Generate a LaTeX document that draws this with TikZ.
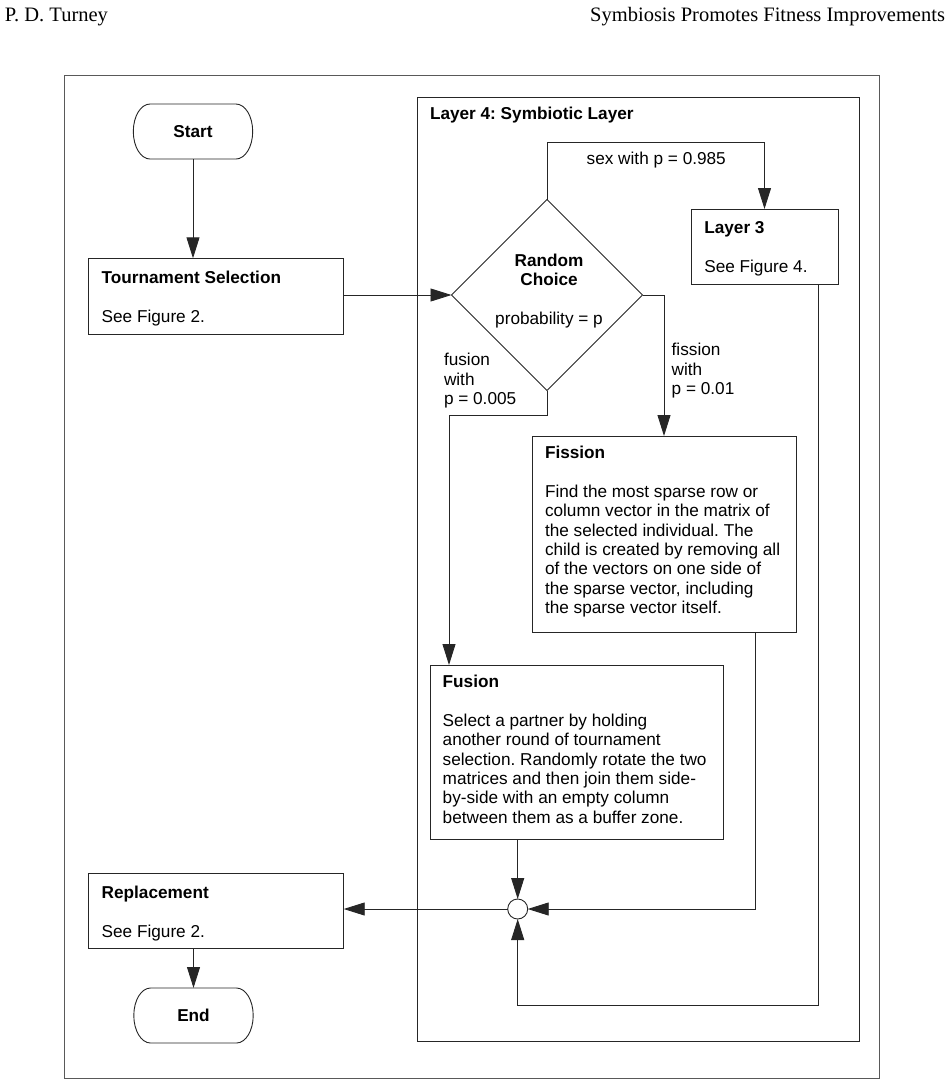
\documentclass[tikz,border=0pt]{standalone}
\usepackage{fontspec}
\setmainfont{Liberation Sans}
\newfontfamily\hdrfont{Liberation Serif}
\usetikzlibrary{shapes.geometric,arrows.meta,calc}
\frenchspacing
\newcommand{\drawterm}[2]{%
 \draw[ln] (#1-43,#2-27.5) -- (#1+43,#2-27.5)
   .. controls (#1+52.2,#2-27.5) and (#1+59.7,#2-15.2) .. (#1+59.7,#2)
   .. controls (#1+59.7,#2+15.2) and (#1+52.2,#2+27.5) .. (#1+43,#2+27.5)
   -- (#1-43,#2+27.5)
   .. controls (#1-52.2,#2+27.5) and (#1-59.7,#2+15.2) .. (#1-59.7,#2)
   .. controls (#1-59.7,#2-15.2) and (#1-52.2,#2-27.5) .. (#1-43,#2-27.5) -- cycle;}
\begin{document}
\frenchspacing
\begin{tikzpicture}[x=1pt,y=-1pt,
  every node/.style={inner sep=0pt, outer sep=0pt},
  ln/.style={draw=black!85, line width=0.9pt},
  arr/.style={ln, -{Triangle[length=21pt,width=13pt]}},
  box/.style={draw=black!85, line width=0.9pt, rectangle, anchor=north west},
  frame/.style={draw=black!65, line width=0.9pt, rectangle, anchor=north west},
  txt/.style={font=\fontsize{17.2}{19.4}\selectfont, align=left, anchor=north west},
  ctxt/.style={font=\fontsize{17.2}{19.4}\selectfont, align=center, anchor=north},
  term/.style={font=\fontsize{17.2}{19.4}\selectfont\bfseries, minimum width=119.4pt, minimum height=55pt},
  hdr/.style={font=\hdrfont\fontsize{20.5}{24}\selectfont, anchor=base west}
]
\useasboundingbox (0,0) rectangle (948,1085);

% header
\node[hdr] (hl) at (5,21) {P. D. Turney};
\node[hdr, anchor=base east] (hr) at (945,21) {Symbiosis Promotes Fitness Improvements};

% frames
\node[frame, minimum width=815pt, minimum height=1003pt] (outer) at (64,75) {};
\node[box, minimum width=442pt, minimum height=944pt] (layer4) at (417,97) {};
\node[txt] (l4t) at (430,107.5) {\textbf{Layer 4: Symbiotic Layer}};

% terminals
\node[term] (start) at (193,131.5) {Start};
\drawterm{193}{131.5}
\node[term] (endn) at (193.5,1015.5) {End};
\drawterm{193.5}{1015.5}

% boxes
\node[box, minimum width=255.4pt, minimum height=76pt] (tour) at (88.3,258.3) {};
\node[txt] (tourt) at (101.7,271) {\textbf{Tournament Selection}\\[19.4pt]See Figure 2.};

\node[box, minimum width=147pt, minimum height=75pt] (l3) at (691,209) {};
\node[txt] (l3t) at (704.3,221.7) {\textbf{Layer 3}\\[19.4pt]See Figure 4.};

\node[box, minimum width=264pt, minimum height=196pt] (fis) at (532,436) {};
\node[txt] (fist) at (545,446) {\textbf{Fission}\\[19.4pt]Find the most sparse row or\\column vector in the matrix of\\the selected individual. The\\child is created by removing all\\of the vectors on one side of\\the sparse vector, including\\the sparse vector itself.};

\node[box, minimum width=293pt, minimum height=174pt] (fus) at (430,665) {};
\node[txt] (fust) at (442.7,675) {\textbf{Fusion}\\[19.4pt]Select a partner by holding\\another round of tournament\\selection. Randomly rotate the two\\matrices and then join them side-\\by-side with an empty column\\between them as a buffer zone.};

\node[box, minimum width=255.4pt, minimum height=75pt] (rep) at (88.3,873.3) {};
\node[txt] (rept) at (101.7,886) {\textbf{Replacement}\\[19.4pt]See Figure 2.};

% decision
\node[diamond, draw=black!85, line width=0.9pt, minimum width=191pt, minimum height=191pt] (dia) at (547,295) {};
\node[ctxt] (diat) at (549,254) {\textbf{Random}\\\textbf{Choice}\\[19.4pt]probability = p};

% junction
\node[circle, draw=black!85, line width=0.9pt, minimum size=20pt] (circ) at (517.7,909) {};

% labels
\node[txt, anchor=base west] (sexl) at (586.7,164) {sex with p = 0.985};
\node[txt] (fisl) at (671.7,343.5) {fission\\with\\p = 0.01};
\node[txt] (fusl) at (444,353.5) {fusion\\with\\p = 0.005};

% connectors
\draw[arr] (start.south) -- (start.south |- tour.north);
\draw[arr] (tour.east |- dia.west) -- (dia.west);
\draw[arr] (dia.north) -- ++(0,-57.3) -| (l3.north);
\draw[arr] (dia.east) -| (fis.north);
\draw[arr] (dia.south) -- ++(0,25) -| ([xshift=19pt]fus.north west);
\draw[arr] (circ.north |- fus.south) -- (circ.north);
\draw[arr] ([xshift=91pt]fis.south) |- (circ.east);
\coordinate (loopb) at (818,1005);
\draw[arr] ([xshift=53.5pt]l3.south) -- (loopb) -| (circ.south);
\draw[arr] (circ.west) -- (circ.west -| rep.east);
\draw[arr] (rep.south -| endn.north) -- (endn.north);
\end{tikzpicture}
\end{document}
